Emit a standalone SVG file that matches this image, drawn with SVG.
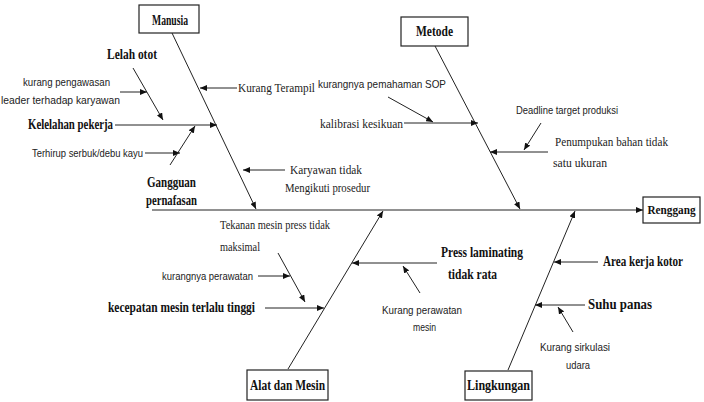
<svg xmlns="http://www.w3.org/2000/svg" width="704" height="402" viewBox="0 0 704 402">
<style>
.box{fill:#fff;stroke:#222;stroke-width:1.2}
.b{font-family:"Liberation Serif",serif;font-weight:bold;font-size:14px;fill:#111}
.s{font-family:"Liberation Serif",serif;font-size:11.5px;fill:#222}
.n{font-family:"Liberation Sans",sans-serif;font-size:11px;fill:#222}
.ln{stroke:#222;stroke-width:1;fill:none;marker-end:url(#ah)}
</style>
<defs>
<marker id="ah" markerUnits="userSpaceOnUse" markerWidth="8" markerHeight="6" refX="7" refY="3" orient="auto">
<path d="M0,0 L7,3 L0,6 z" fill="#111"/>
</marker>
</defs>
<rect width="704" height="402" fill="#fff"/>
<g id="connectors">
<line class="ln" x1="152" y1="210" x2="643" y2="210"/>
<line class="ln" x1="172" y1="33" x2="256" y2="209"/>
<line class="ln" x1="435" y1="46" x2="520" y2="209"/>
<line class="ln" x1="288" y1="369" x2="383" y2="211"/>
<line class="ln" x1="508" y1="370" x2="575" y2="211"/>
<line class="ln" x1="237" y1="88" x2="200" y2="88"/>
<line class="ln" x1="115" y1="125" x2="217" y2="125"/>
<line class="ln" x1="133" y1="68" x2="163" y2="120"/>
<line class="ln" x1="120" y1="92" x2="147" y2="92"/>
<line class="ln" x1="145" y1="153" x2="180" y2="153"/>
<line class="ln" x1="170" y1="165" x2="195" y2="126"/>
<line class="ln" x1="285" y1="170" x2="243" y2="170"/>
<line class="ln" x1="404" y1="123" x2="478" y2="123"/>
<line class="ln" x1="388" y1="97" x2="433" y2="122"/>
<line class="ln" x1="548" y1="152" x2="490" y2="152"/>
<line class="ln" x1="541" y1="123" x2="524" y2="150"/>
<line class="ln" x1="278" y1="253" x2="305" y2="302"/>
<line class="ln" x1="258" y1="276" x2="290" y2="276"/>
<line class="ln" x1="265" y1="308" x2="324" y2="308"/>
<line class="ln" x1="437" y1="263" x2="352" y2="263"/>
<line class="ln" x1="420" y1="293" x2="403" y2="266"/>
<line class="ln" x1="598" y1="262" x2="554" y2="262"/>
<line class="ln" x1="585" y1="305" x2="535" y2="305"/>
<line class="ln" x1="573" y1="332" x2="558" y2="307"/>
</g>
<g id="manusia"><rect class="box" x="139" y="5" width="60" height="28"/><text class="b" x="152" y="25" textLength="36" lengthAdjust="spacingAndGlyphs">Manusia</text></g>
<g id="metode"><rect class="box" x="401" y="17" width="67" height="29"/><text class="b" x="416" y="36" textLength="37" lengthAdjust="spacingAndGlyphs">Metode</text></g>
<g id="renggang"><rect class="box" x="643" y="197" width="57" height="26"/><text class="b" x="671.5" y="214" text-anchor="middle" style="font-size:12.5px" textLength="48" lengthAdjust="spacingAndGlyphs">Renggang</text></g>
<g id="alat-mesin"><rect class="box" x="247" y="370" width="81" height="30"/><text class="b" x="250" y="390" textLength="75" lengthAdjust="spacingAndGlyphs">Alat dan Mesin</text></g>
<g id="lingkungan"><rect class="box" x="465" y="371" width="67" height="29"/><text class="b" x="467" y="390" textLength="63" lengthAdjust="spacingAndGlyphs">Lingkungan</text></g>
<g id="lelah-otot"><text class="b" x="107" y="59" textLength="50" lengthAdjust="spacingAndGlyphs">Lelah otot</text></g>
<g id="kelelahan-pekerja"><text class="b" x="28" y="129" textLength="85" lengthAdjust="spacingAndGlyphs">Kelelahan pekerja</text></g>
<g id="gangguan-pernafasan"><text class="b" x="147" y="187" textLength="49" lengthAdjust="spacingAndGlyphs">Gangguan</text><text class="b" x="146" y="205" textLength="51" lengthAdjust="spacingAndGlyphs">pernafasan</text></g>
<g id="kurang-terampil"><text class="s" x="238" y="92" textLength="77" lengthAdjust="spacingAndGlyphs">Kurang Terampil</text></g>
<g id="karyawan-prosedur"><text class="s" x="290" y="174" textLength="72" lengthAdjust="spacingAndGlyphs">Karyawan tidak</text><text class="s" x="285" y="192" textLength="85" lengthAdjust="spacingAndGlyphs">Mengikuti prosedur</text></g>
<g id="kurang-pengawasan"><text class="n" x="23" y="86" textLength="87" lengthAdjust="spacingAndGlyphs">kurang pengawasan</text><text class="n" x="1" y="104" textLength="119" lengthAdjust="spacingAndGlyphs">leader terhadap karyawan</text></g>
<g id="terhirup"><text class="n" x="32" y="157" textLength="111" lengthAdjust="spacingAndGlyphs">Terhirup serbuk/debu kayu</text></g>
<g id="pemahaman-sop"><text class="n" x="318" y="88" textLength="128" lengthAdjust="spacingAndGlyphs">kurangnya pemahaman SOP</text></g>
<g id="kalibrasi"><text class="s" x="320" y="128" textLength="83" lengthAdjust="spacingAndGlyphs">kalibrasi kesikuan</text></g>
<g id="deadline"><text class="n" x="516" y="114" textLength="102" lengthAdjust="spacingAndGlyphs">Deadline target produksi</text></g>
<g id="penumpukan"><text class="s" x="555" y="146" textLength="113" lengthAdjust="spacingAndGlyphs">Penumpukan bahan tidak</text><text class="s" x="553" y="167" textLength="54" lengthAdjust="spacingAndGlyphs">satu ukuran</text></g>
<g id="tekanan"><text class="s" x="220" y="229" textLength="110" lengthAdjust="spacingAndGlyphs">Tekanan mesin press tidak</text><text class="s" x="220" y="251" textLength="40" lengthAdjust="spacingAndGlyphs">maksimal</text></g>
<g id="kurangnya-perawatan"><text class="n" x="162" y="280" textLength="91" lengthAdjust="spacingAndGlyphs">kurangnya perawatan</text></g>
<g id="kecepatan"><text class="b" x="108" y="312" textLength="147" lengthAdjust="spacingAndGlyphs">kecepatan mesin terlalu tinggi</text></g>
<g id="press-laminating"><text class="b" x="441" y="257" textLength="82" lengthAdjust="spacingAndGlyphs">Press laminating</text><text class="b" x="448" y="279" textLength="49" lengthAdjust="spacingAndGlyphs">tidak rata</text></g>
<g id="kurang-perawatan-mesin"><text class="n" x="382" y="314" textLength="80" lengthAdjust="spacingAndGlyphs">Kurang perawatan</text><text class="n" x="413" y="331" textLength="23" lengthAdjust="spacingAndGlyphs">mesin</text></g>
<g id="area-kerja"><text class="b" x="603" y="266" textLength="80" lengthAdjust="spacingAndGlyphs">Area kerja kotor</text></g>
<g id="suhu-panas"><text class="b" x="588" y="309" textLength="64" lengthAdjust="spacingAndGlyphs">Suhu panas</text></g>
<g id="sirkulasi"><text class="n" x="540" y="351" textLength="70" lengthAdjust="spacingAndGlyphs">Kurang sirkulasi</text><text class="n" x="566" y="369" textLength="24" lengthAdjust="spacingAndGlyphs">udara</text></g>
</svg>
